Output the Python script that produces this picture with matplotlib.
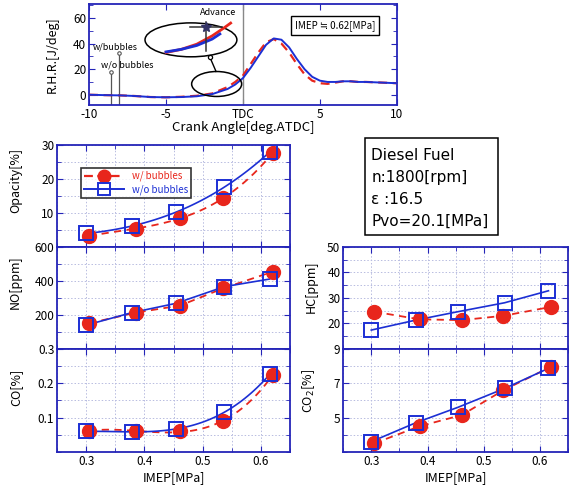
import numpy as np
import matplotlib
matplotlib.use("Agg")
import matplotlib.pyplot as plt
from matplotlib.patches import Ellipse, Rectangle
from matplotlib.ticker import MultipleLocator, FixedLocator
from matplotlib.lines import Line2D

plt.rcParams['font.family'] = ['Noto Sans CJK JP', 'DejaVu Sans']

# ---------------- data ----------------
crank = [-10, -9, -8, -7, -6, -5, -4, -3, -2, -1.5, -1, -0.5, 0, 0.5, 1, 1.5, 2,
         2.5, 3, 3.5, 4, 4.5, 5, 5.5, 6, 6.5, 7, 7.5, 8, 9, 10]
rhr_wo = [0, -0.3, -0.5, -1, -1.8, -2, -1.8, -1.2, 0.5, 2.5, 4.5, 8, 13, 21, 30, 39, 44,
          43, 37, 28, 20, 14, 11, 10, 10, 10.5, 10.5, 10, 10, 9.5, 9]
rhr_w = [0, -0.3, -0.5, -1, -1.8, -2, -1.6, -0.8, 1, 3.5, 6, 10, 15, 24, 33, 41, 43.5,
         40, 33, 24, 16, 11, 9, 8.5, 9.5, 10.5, 10.5, 10, 10, 9.5, 9]
inset_x_wo = [-5.0, -4.0, -3.0, -2.0, -1.5]
inset_y_wo = [33.5, 35.5, 38.5, 43.5, 47.5]
inset_x_w = [-5.0, -4.0, -3.0, -2.0, -1.2, -0.8]
inset_y_w = [33.0, 35.5, 39.5, 46.0, 52.5, 56.0]
inj_x = [-8.57, -8.03]      # w/o, w/
inj_top = [18, 32.7]

imep_w = [0.305, 0.386, 0.461, 0.535, 0.620]
imep_wo = [0.300, 0.379, 0.454, 0.537, 0.615]
opacity_w = [3.2, 5.4, 8.4, 14.3, 27.6]
opacity_wo = [3.95, 6.1, 10.3, 17.5, 27.9]
no_w = [151, 214, 255, 356, 454]
no_wo = [140, 214, 268, 366, 411]
co_w = [0.062, 0.060, 0.060, 0.090, 0.224]
co_wo = [0.060, 0.058, 0.068, 0.115, 0.226]
hc_w = [24.6, 21.6, 21.3, 23.0, 26.5]
hc_wo = [17.4, 21.3, 24.6, 28.1, 32.8]
co2_w = [3.5, 4.5, 5.15, 6.6, 7.97]
co2_wo = [3.6, 4.7, 5.6, 6.7, 7.87]

info_lines = ['Diesel Fuel', 'n:1800[rpm]', 'ε :16.5', 'Pvo=20.1[MPa]']

RED = '#e8261c'
BLUE = '#1c2fd4'
FRAME = '#2424b8'

fig = plt.figure(figsize=(5.71, 4.86), dpi=100)

def style(ax, fs=8.5):
    for s in ax.spines.values():
        s.set_color(FRAME)
        s.set_linewidth(1.3)
    ax.tick_params(which='both', direction='in', top=True, right=True,
                   color=FRAME, labelsize=fs, pad=2)
    ax.tick_params(which='major', length=4)
    ax.tick_params(which='minor', length=3)

# ---------------- top RHR plot ----------------
ax0 = fig.add_axes([0.156, 0.784, 0.539, 0.208])
style(ax0)
ax0.plot(crank, rhr_w, color=RED, lw=1.6, ls=(0, (4, 2.5)), zorder=3)
ax0.plot(crank, rhr_wo, color=BLUE, lw=1.4, zorder=4)
ax0.axvline(0, color='#888888', lw=1)
ax0.set_xlim(-10, 10)
ax0.set_ylim(-8, 71)
ax0.set_xticks([-10, -5, 0, 5, 10])
ax0.set_xticklabels(['-10', '-5', 'TDC', '5', '10'])
ax0.yaxis.set_major_locator(MultipleLocator(20))
ax0.yaxis.set_minor_locator(MultipleLocator(10))
ax0.set_xlabel('Crank Angle[deg.ATDC]', fontsize=9.5, labelpad=0)
ax0.set_ylabel('R.H.R.[J/deg]', fontsize=9)
ax0.yaxis.set_label_coords(-0.097, 0.5)

# injection markers
for xi, yt in zip(inj_x, inj_top):
    ax0.plot([xi, xi], [-8, yt], color='#555555', lw=0.9)
    ax0.plot([xi], [yt], marker='o', ms=2.5, mfc='white', mec='#555555', mew=0.8)
ax0.text(-9.75, 37.4, 'w/bubbles', fontsize=6.5, va='center', ha='left')
ax0.text(-9.2, 23, 'w/o bubbles', fontsize=6.5, va='center', ha='left')

# ellipses
ax0.add_patch(Ellipse((-1.71, 8.4), 3.25, 19.5, fill=False, ec='black', lw=1.1, zorder=5))
ax0.add_patch(Ellipse((-3.38, 42.9), 5.97, 26.5, fill=False, ec='black', lw=1.1, zorder=5))
ax0.plot([-1.75, -2.12], [18.2, 28.5], color='black', lw=1.0, zorder=5)
ax0.plot([-2.14], [29.4], marker='o', ms=3, mfc='white', mec='black', mew=0.9, zorder=6)
ax0.plot(inset_x_w, inset_y_w, color=RED, lw=2.0, zorder=6)
ax0.plot(inset_x_wo, inset_y_wo, color=BLUE, lw=2.0, zorder=7)
ax0.plot([-3.44, -1.38], [52.8, 52.8], color='#333333', lw=1.1, zorder=8)
ax0.plot([-2.4, -2.4], [34, 57], color='#333333', lw=1.1, zorder=8)
ax0.plot([-2.4], [52.8], marker='*', ms=7, color='#333366', zorder=9)
ax0.text(-1.62, 64.5, 'Advance', fontsize=6.5, ha='center', va='center')
ax0.text(5.97, 54, 'IMEP ≒ 0.62[MPa]', fontsize=7, ha='center', va='center',
         bbox=dict(boxstyle='square,pad=0.4', fc='white', ec='black', lw=1))

# ---------------- lower panels ----------------
def panel(rect, yw, ywo, ylim, ymaj, ymin, ylabel, lab_xy, showx=False, fit=None):
    ax = fig.add_axes(rect)
    style(ax)
    ax.set_xlim(0.25, 0.65)
    ax.set_ylim(*ylim)
    ax.xaxis.set_major_locator(MultipleLocator(0.1))
    ax.xaxis.set_minor_locator(MultipleLocator(0.05))
    ax.yaxis.set_major_locator(FixedLocator(ymaj))
    ax.yaxis.set_minor_locator(MultipleLocator(ymin))
    ax.grid(which='both', color='#b8bce0', ls=(0, (1.5, 2)), lw=0.7)
    ax.set_axisbelow(True)
    if fit:
        xx = np.linspace(min(imep_w), max(imep_w), 60)
        ax.plot(xx, np.polyval(np.polyfit(imep_w, yw, fit), xx), color=RED,
                lw=1.3, ls=(0, (4, 3)), zorder=3)
        xx2 = np.linspace(min(imep_wo), max(imep_wo), 60)
        ax.plot(xx2, np.polyval(np.polyfit(imep_wo, ywo, fit), xx2), color=BLUE,
                lw=1.2, zorder=3)
    else:
        ax.plot(imep_w, yw, color=RED, lw=1.3, ls=(0, (4, 3)), zorder=3)
        ax.plot(imep_wo, ywo, color=BLUE, lw=1.2, zorder=3)
    ax.plot(imep_w, yw, ls='none', marker='o', ms=10, color=RED, mec=RED, zorder=4)
    ax.plot(imep_wo, ywo, ls='none', marker='s', ms=10, mfc='none', mec=BLUE, mew=1.4,
            zorder=5)
    ax.set_ylabel(ylabel, fontsize=9)
    ax.yaxis.set_label_coords(*lab_xy)
    if showx:
        ax.set_xlabel('IMEP[MPa]', fontsize=9, labelpad=2)
    else:
        ax.tick_params(labelbottom=False)
    return ax

L, LW = 0.100, 0.408
R, RW = 0.601, 0.394
H = 0.210
ax_op = panel([L, 0.492, LW, H], opacity_w, opacity_wo, (0, 30), [10, 20, 30], 5,
              'Opacity[%]', (-0.15, 0.65), fit=3)
ax_no = panel([L, 0.282, LW, H], no_w, no_wo, (0, 600), [200, 400, 600], 100,
              'NO[ppm]', (-0.15, 0.65))
ax_co = panel([L, 0.070, LW, 0.212], co_w, co_wo, (0, 0.3), [0.1, 0.2, 0.3], 0.05,
              'CO[%]', (-0.15, 0.63), showx=True, fit=3)
ax_hc = panel([R, 0.282, RW, H], hc_w, hc_wo, (10, 50), [20, 30, 40, 50], 5,
              'HC[ppm]', (-0.115, 0.61))
ax_co2 = panel([R, 0.070, RW, 0.212], co2_w, co2_wo, (3, 9), [5, 7, 9], 1,
               'CO$_2$[%]', (-0.115, 0.59), showx=True)

# legend
h1 = Line2D([], [], color=RED, ls=(0, (4, 2)), lw=1.6, marker='o', ms=9, mec=RED)
h2 = Line2D([], [], color=BLUE, lw=1.4, marker='s', ms=9, mfc='none', mec=BLUE, mew=1.4)
leg = ax_op.legend([h1, h2], ['w/ bubbles', 'w/o bubbles'], loc='upper left',
                   bbox_to_anchor=(0.08, 0.82), fontsize=7, frameon=True, fancybox=False,
                   edgecolor='black', handlelength=4.2, borderpad=0.3, labelspacing=0.3,
                   handletextpad=0.8)
leg.get_frame().set_linewidth(1.2)
for t, c in zip(leg.get_texts(), [RED, BLUE]):
    t.set_color(c)

# info box
fig.patches.append(Rectangle((0.639, 0.516), 0.233, 0.200, transform=fig.transFigure,
                             fill=False, ec='black', lw=1.1, figure=fig))
for i, line in enumerate(info_lines):
    fig.text(0.650, 0.681 - i * 0.0455, line, fontsize=11, ha='left', va='center',
             family=['DejaVu Sans'])

fig.savefig('out.png', dpi=100)
